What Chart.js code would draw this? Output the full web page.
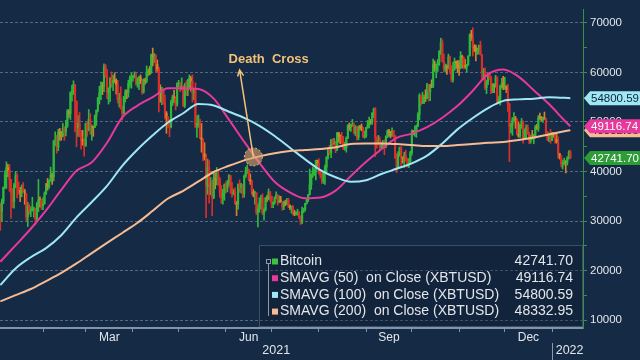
<!DOCTYPE html>
<html>
<head>
<meta charset="utf-8">
<title>Bitcoin - Death Cross</title>
<script src="https://cdn.jsdelivr.net/npm/chart.js@4.4.1/dist/chart.umd.min.js"></script>
<style>
  html, body { margin: 0; padding: 0; background: #152a45; }
  #wrap { width: 640px; height: 360px; }
</style>
</head>
<body>
<div id="wrap"><canvas id="chart" width="640" height="360"></canvas></div>
<script>
// ---- data (XBTUSD daily, Jan 4 2021 .. Jan 13 2022) ----
// day numbers count from Jan 1 2021 = 0
const startDay = 3;          // Jan 4 2021
const firstOpen = 32780;     // open of the first candle

const closes = [
  // Jan 2021 (4..31)
  31970, 33990, 36820, 39370, 40800, 40250, 38360, 35570, 33920, 37320, 39190, 36830, 36180, 35790,
  36630, 36070, 35550, 30830, 33010, 32100, 32290, 32370, 32570, 30430, 33470, 34320, 34270, 33110,
  // Feb
  33540, 35510, 37470, 36930, 38140, 39270, 38900, 46200, 46480, 44920, 47910, 47500, 47110, 48720,
  47950, 49200, 52150, 51680, 55890, 56100, 57540, 54210, 48820, 49710, 47090, 46340, 46190, 45140,
  // Mar
  49630, 48380, 50540, 48560, 48930, 48910, 51210, 52380, 54880, 55850, 57330, 57190, 61240, 59300, 55910, 56800,
  58870, 57860, 58350, 58310, 57520, 54530, 54740, 52780, 51700, 55140, 55970, 55950, 57750, 58920, 58920,
  // Apr
  59100, 59380, 57600, 58760, 59060, 58190, 56050, 58320, 58250, 59790, 60200, 59890, 63500, 63110, 63310,
  61570, 60680, 56220, 55720, 56470, 53910, 51760, 51090, 50050, 49000, 54020, 55030, 54820, 53560, 57750,
  // May
  57830, 56630, 57200, 53330, 57420, 56400, 57360, 58800, 58230, 55860, 56700, 49150, 49720, 49880, 46760, 46460,
  43540, 42910, 36960, 40780, 37300, 37540, 34770, 38710, 38400, 39300, 38440, 35700, 34620, 35680, 37330,
  // Jun
  36690, 37580, 39190, 36850, 35550, 35860, 33560, 33400, 37350, 36700, 37330, 35550, 39100, 40220, 40410,
  38350, 38050, 35790, 35620, 35700, 31680, 32510, 33720, 34660, 31590, 32280, 34700, 34490, 35910, 35050,
  // Jul
  33500, 33790, 34670, 35290, 33750, 34240, 33860, 32880, 33800, 33520, 34240, 33160, 32700, 32820, 31780, 31420,
  31520, 31780, 30820, 29810, 32110, 32310, 33580, 34290, 35350, 37340, 39410, 40000, 40010, 42240, 41630,
  // Aug
  39970, 39200, 38150, 39750, 40870, 42820, 44560, 43800, 46370, 45590, 45590, 44430, 47790, 47100, 47050, 45940,
  44700, 44800, 46720, 49340, 48910, 49320, 49550, 47710, 48960, 46940, 49060, 48900, 48830, 47050, 47170,
  // Sep
  48850, 49330, 50030, 49940, 51750, 52630, 46810, 46090, 46390, 44880, 45200, 46060, 44960, 47090, 48180,
  47780, 47270, 48280, 47260, 42840, 40690, 43570, 44900, 42840, 42720, 43210, 42240, 41030, 41560, 43790,
  // Oct
  48120, 47710, 48200, 49110, 51510, 55360, 53810, 53970, 54970, 54770, 57490, 56040, 57400, 57320, 61590, 60890,
  61550, 62030, 64260, 65990, 62210, 60690, 61290, 60850, 63080, 60330, 58480, 60620, 62230, 61890, 61320,
  // Nov
  61000, 63230, 62970, 61450, 61130, 61530, 63330, 67570, 66970, 65000, 64950, 64160, 64470, 65470, 63560,
  60160, 60370, 56940, 58120, 59760, 58730, 56290, 57570, 57190, 58960, 53730, 54720, 57270, 57780, 56950,
  // Dec
  57180, 56480, 53600, 49150, 49400, 50440, 50590, 50470, 47550, 47140, 49390, 50050, 46700, 48340, 48860, 47630,
  46130, 46830, 46680, 46910, 48890, 48590, 50840, 50820, 50400, 50780, 50700, 47540, 46460, 47120, 46220,
  // Jan 2022 (1..13)
  47740, 47310, 46430, 45900, 43570, 43160, 41560, 41730, 41910, 41820, 42740, 43950, 42741.70
];

const highs = [
  33600, 34440, 36880, 40180, 41950, 41440, 41420, 38350, 36570, 37600, 40000, 39580, 37900, 36800,
  37300, 37800, 36400, 35600, 33800, 33400, 32900, 34800, 32800, 32600, 33800, 38400, 34900, 34400,
  34700, 35900, 37600, 38600, 38300, 40900, 39700, 46200, 48000, 47300, 48500, 48700, 48100, 49700,
  49000, 50300, 52500, 52500, 56100, 57400, 58300, 57500, 54200, 51300, 51900, 48300, 48300, 46600,
  49800, 50100, 52500, 51700, 49400, 49200, 51400, 52400, 54900, 57200, 58100, 58000, 61700, 61600, 60600, 56900,
  58900, 60100, 59400, 59900, 58700, 58400, 55800, 57100, 53200, 55100, 56500, 56500, 58400, 59300, 59800,
  59400, 60100, 59800, 58900, 59200, 59500, 58600, 58700, 58800, 61300, 60700, 61200, 63700, 64900, 63800,
  63600, 62500, 61000, 57500, 57000, 56700, 55400, 52100, 51100, 50500, 54400, 55400, 56400, 55100, 57900,
  58400, 57900, 58900, 57100, 57800, 58300, 58600, 59500, 59200, 59500, 56800, 57900, 51300, 51400, 50600, 49700,
  46600, 45800, 43500, 42500, 42200, 38800, 38200, 39800, 39700, 40800, 40400, 38800, 37200, 36400, 37500,
  37900, 38200, 39400, 39200, 37800, 36400, 36700, 34000, 37500, 38300, 37600, 37400, 39300, 40900, 41300,
  40500, 39500, 38200, 36400, 36000, 35700, 33300, 34700, 35200, 35500, 32700, 34700, 35200, 36500, 36000,
  35000, 33900, 34900, 35900, 35300, 35100, 35000, 33900, 34000, 34200, 34600, 34600, 33300, 33000, 33200, 32200,
  31900, 32400, 31900, 31000, 32800, 32600, 33600, 34500, 35400, 40500, 39500, 40900, 40600, 42300, 42300,
  42600, 40400, 39800, 39900, 41300, 43000, 44700, 45300, 46500, 46600, 46700, 46200, 47900, 47900, 47400, 47900,
  47100, 45900, 47000, 49400, 49800, 49500, 50500, 49800, 49300, 49000, 49200, 49300, 49600, 48900, 48200,
  48900, 50300, 51000, 50500, 51900, 52800, 52900, 47000, 47300, 47000, 45900, 46300, 46400, 47200, 48400,
  48500, 48100, 48800, 48300, 47300, 43600, 44000, 44900, 45000, 42900, 43900, 44300, 42700, 42600, 44100,
  48400, 48300, 49200, 49400, 51900, 55700, 55300, 56000, 55400, 56500, 57800, 57600, 57600, 58500, 62700, 62300,
  61700, 62600, 64400, 66900, 66600, 63700, 61700, 61500, 63700, 63300, 61400, 62000, 62900, 62300, 62400,
  62400, 64200, 63500, 63100, 62600, 61600, 63300, 67800, 68500, 69000, 65600, 65500, 64900, 65500, 66300,
  63500, 60800, 60900, 58400, 59900, 60000, 59200, 57800, 57700, 59400, 59100, 55200, 57400, 58800, 59200,
  59000, 57300, 57600, 53800, 49700, 50900, 51900, 51100, 50700, 50000, 49500, 50700, 50200, 48600, 49400, 49400,
  47900, 47300, 48300, 47500, 49300, 49500, 51300, 51800, 51100, 51000, 52000, 50700, 48100, 47800, 48500,
  47900, 47900, 47600, 47500, 47000, 43700, 43100, 42300, 42700, 42200, 43000, 44200, 44300
];

const lows = [
  28130, 29900, 33510, 36490, 36600, 38980, 35990, 30550, 32700, 32580, 36700, 34660, 35400, 33900,
  34900, 35900, 33400, 30100, 28900, 31400, 30900, 32000, 30800, 29300, 30000, 31900, 32800, 32300,
  32300, 33400, 35400, 36200, 36600, 38000, 37400, 38100, 45200, 43700, 44200, 46300, 46300, 47000,
  46300, 47200, 48900, 50900, 50500, 54200, 55500, 48000, 45000, 47100, 47000, 44500, 45300, 43100,
  45100, 47100, 48200, 47500, 46300, 47100, 48900, 49300, 52000, 53600, 54500, 55500, 56100, 59000, 54700, 53600,
  54100, 57000, 56300, 57900, 55600, 53800, 53000, 52600, 50400, 51600, 54000, 54700, 55000, 57000, 56800,
  58200, 58900, 57400, 57000, 56500, 57700, 55600, 55800, 57600, 57900, 59300, 59500, 59800, 61300, 62000,
  60000, 60200, 52000, 54000, 53500, 53600, 50600, 47700, 48900, 47000, 48800, 53300, 53900, 52400, 53200,
  57100, 56100, 56500, 53100, 52900, 55300, 55300, 56900, 56200, 54000, 54500, 48800, 46900, 48900, 46600, 43900,
  42200, 42300, 30700, 35400, 33600, 35300, 31100, 34500, 36500, 37300, 37200, 34800, 33600, 33400, 34200,
  35700, 35900, 37200, 35600, 34800, 35300, 33400, 31100, 32400, 35800, 35700, 34700, 34800, 38800, 39600,
  38100, 37400, 35300, 34900, 33400, 31300, 28800, 31800, 32400, 31300, 30200, 32000, 33900, 34300, 34000,
  32700, 32700, 33400, 34500, 33200, 33700, 33800, 32200, 32300, 33100, 33300, 32700, 32300, 31600, 31200, 31100,
  31200, 31200, 30500, 29300, 29500, 31700, 32000, 33400, 33900, 35300, 36400, 38800, 39200, 38300, 41100,
  39500, 38700, 37600, 37600, 37400, 39900, 42500, 43400, 42800, 45100, 45400, 43800, 44200, 45900, 45600, 45700,
  44400, 44300, 43900, 46600, 48300, 48100, 49100, 47600, 47200, 46300, 46400, 48400, 48200, 46900, 46700,
  46900, 48700, 48800, 49500, 49500, 50900, 43000, 44700, 45500, 44200, 44800, 44800, 43400, 44800, 46800,
  47100, 46800, 47100, 46900, 42600, 39800, 40600, 43100, 40900, 41700, 40800, 42100, 40900, 40800, 41500,
  43300, 47400, 47100, 46900, 49100, 50400, 53400, 53700, 53700, 54100, 54700, 54200, 54300, 56900, 56900, 60200,
  58900, 60200, 61400, 63600, 62100, 60100, 60200, 59600, 60700, 59800, 58100, 58000, 60400, 60800, 60000,
  59400, 60700, 60900, 60700, 60800, 60100, 61400, 63300, 66400, 63300, 64200, 62300, 63600, 63700, 63500,
  58700, 58500, 56500, 55700, 57500, 58600, 55700, 55900, 55900, 57000, 53600, 53700, 53400, 56800, 56500,
  56600, 55900, 52100, 42000, 47800, 47300, 50000, 48700, 47400, 46900, 46900, 48700, 45700, 46500, 46600, 47500,
  45600, 45700, 46500, 45600, 46700, 48500, 48100, 50500, 50200, 49900, 50500, 47300, 46200, 46000, 45700,
  46200, 46900, 45700, 45700, 42700, 42500, 40900, 40500, 41300, 39700, 41300, 42500, 42600
];

const maDays = [3, 13, 23, 33, 43, 53, 63, 73, 83, 93, 103, 113, 123, 133, 143, 153, 163, 173, 183, 193,
  203, 213, 223, 233, 243, 253, 263, 273, 283, 293, 303, 313, 323, 333, 343, 353, 363, 373, 377];
const sma50 = [21800, 25100, 28450, 32150, 36300, 40150, 41850, 45800, 50900, 53300, 55000, 56780, 56800, 56630,
  54700, 50450, 46000, 41750, 37950, 35800, 34600, 34750, 36150, 39100, 41950, 44500, 46800, 47650, 48950, 50850,
  53250, 56300, 59650, 60600, 59150, 56400, 53600, 50350, 49116.74];
const sma100 = [17100, 20450, 22700, 24550, 27150, 30750, 33850, 37100, 41150, 44440, 47300, 49880, 51750, 53600,
  53300, 52050, 50800, 49200, 47150, 44800, 42450, 40300, 38850, 37930, 38250, 39500, 40550, 41650, 43200, 45650,
  48500, 50800, 52800, 54250, 54550, 54670, 54970, 54860, 54800.59];
const sma200 = [13800, 15050, 16300, 17900, 19550, 21450, 23550, 25600, 27600, 29650, 32070, 34550, 36100, 37990,
  39900, 41150, 42250, 43050, 43700, 44125, 44335, 44545, 44900, 45570, 45660, 45660, 45530, 45350, 45150, 45150,
  45350, 45550, 45800, 45950, 46350, 46850, 47480, 48100, 48332.95];

// axis ticks and labels
const yTickValues = [10000, 15000, 20000, 25000, 30000, 35000, 40000, 45000, 50000, 55000, 60000, 65000, 70000];
const monthStarts = [31, 59, 90, 120, 151, 181, 212, 243, 273, 304, 334, 365];
const monthLabelDays = [74.5, 166, 258, 349.5];
const monthLabels = ['Mar', 'Jun', 'Sep', 'Dec'];
const yearLabelDays = [184, 376.5];
const yearLabels = ['2021', '2022'];
const yearBreakDay = 365;

// annotation
const crossDay = 169;        // Jun 19 2021
const crossValue = 42950;
const noteDay = 160;
const noteValue = 60500;

const seriesNames = ['Bitcoin', 'SMAVG (50)  on Close (XBTUSD)', 'SMAVG (100)  on Close (XBTUSD)', 'SMAVG (200)  on Close (XBTUSD)'];

// ---- styles ----
const FONT = '"Liberation Sans", Arial, sans-serif';
const TEXT = '#e3e6ea';
const UP = '#2fb83a';
const DOWN = '#dc2f2a';
const DOWN_SMALL = '#d0862a';
const C50 = '#e6399b';
const C100 = '#9fe7f4';
const C200 = '#f6bb92';
const BTC = '#3cc43c';
const GRID = 'rgba(150,166,186,0.5)';
const AXIS_GREEN = '#3c8f47';
const AXIS_GREY = '#8193a8';
const NOTE = '#f2c278';
const X_MIN = 2.78;
const X_MAX = 385.3;

const days = closes.map((_, i) => startDay + i);
const opens = closes.map((c, i) => (i === 0 ? firstOpen : closes[i - 1]));
const candleColors = closes.map((c, i) => {
  const chg = (c - opens[i]) / opens[i];
  if (chg >= 0) return UP;
  return chg < -0.015 ? DOWN : DOWN_SMALL;
});

const wickData = days.map((d, i) => ({ x: d, y: [Math.min(lows[i], opens[i], closes[i]), Math.max(highs[i], opens[i], closes[i])] }));
const bodyData = days.map((d, i) => ({ x: d, y: [opens[i], closes[i]] }));
const toPoints = vals => maDays.map((d, i) => ({ x: d, y: vals[i] }));

const last = arr => arr[arr.length - 1];

// legend box in the lower right
const seriesBox = {
  id: 'seriesBox',
  afterDraw(chart) {
    const { ctx, chartArea } = chart;
    const left = chartArea.right - 324;
    const top = chartArea.bottom - 83;
    ctx.save();
    ctx.fillStyle = 'rgba(9,22,40,0.3)';
    ctx.fillRect(left, top, chartArea.right - left, 82);
    ctx.strokeStyle = '#3a4f68';
    ctx.lineWidth = 1;
    ctx.strokeRect(left + 0.5, top + 0.5, chartArea.right - left - 1, 81);

    const colors = [BTC, C50, C100, C200];
    const values = [last(closes), last(sma50), last(sma100), last(sma200)];
    // thin bracket
    ctx.strokeStyle = '#8d99a8';
    ctx.beginPath();
    ctx.moveTo(left + 9.5, top + 18);
    ctx.lineTo(left + 9.5, top + 71);
    ctx.stroke();
    ctx.strokeRect(left + 7.5, top + 14.5, 4, 4);

    ctx.font = '14px ' + FONT;
    ctx.textBaseline = 'middle';
    seriesNames.forEach((name, i) => {
      const y = top + 16.5 + i * 16.7;
      ctx.fillStyle = colors[i];
      ctx.fillRect(left + 13, y - 3, 6, 6);
      ctx.fillStyle = TEXT;
      ctx.textAlign = 'left';
      ctx.fillText(name, left + 21, y);
      ctx.textAlign = 'right';
      ctx.fillText(values[i].toFixed(2), chartArea.right - 10, y);
    });
    ctx.restore();
  }
};

// last value tags on the price axis + year separator
const valueTags = {
  id: 'valueTags',
  afterDraw(chart) {
    const { ctx, chartArea, scales } = chart;
    const yS = scales.y;
    const tags = [
      [last(sma200), C200, '#1a1a1a'],
      [last(sma50), C50, '#ffffff'],
      [last(sma100), C100, '#0e2236'],
      [last(closes), '#2c9c36', '#ffffff']
    ];
    const x0 = chartArea.right + 1;
    ctx.save();
    ctx.font = '11.5px ' + FONT;
    ctx.textBaseline = 'middle';
    ctx.textAlign = 'left';
    tags.forEach(([v, bg, fg]) => {
      const y = yS.getPixelForValue(v);
      ctx.fillStyle = bg;
      ctx.beginPath();
      ctx.moveTo(x0, y);
      ctx.lineTo(x0 + 6, y - 7);
      ctx.lineTo(640, y - 7);
      ctx.lineTo(640, y + 7);
      ctx.lineTo(x0 + 6, y + 7);
      ctx.closePath();
      ctx.fill();
      ctx.fillStyle = fg;
      ctx.fillText(v.toFixed(2), x0 + 7, y + 0.5);
    });

    const xb = Math.round(scales.x.getPixelForValue(yearBreakDay)) + 0.5;
    ctx.strokeStyle = '#8d99a8';
    ctx.lineWidth = 1;
    ctx.beginPath();
    ctx.moveTo(xb, 343);
    ctx.lineTo(xb, 360);
    ctx.stroke();
    ctx.restore();
  }
};

// Death Cross marker
const deathCross = {
  id: 'deathCross',
  afterDatasetsDraw(chart) {
    const { ctx, scales: { x, y } } = chart;
    const cx = x.getPixelForValue(crossDay), cy = y.getPixelForValue(crossValue);
    const tx = x.getPixelForValue(noteDay), ty = y.getPixelForValue(noteValue);
    ctx.save();
    ctx.beginPath();
    ctx.arc(cx, cy, 9, 0, Math.PI * 2);
    ctx.fillStyle = 'rgba(224,168,108,0.6)';
    ctx.fill();
    ctx.setLineDash([2, 2]);
    ctx.strokeStyle = NOTE;
    ctx.lineWidth = 1;
    ctx.stroke();
    ctx.setLineDash([]);

    ctx.strokeStyle = NOTE;
    ctx.lineWidth = 1.5;
    ctx.beginPath();
    ctx.moveTo(cx, cy);
    ctx.lineTo(tx, ty);
    const ang = Math.atan2(ty - cy, tx - cx);
    ctx.moveTo(tx + 7 * Math.cos(ang + Math.PI - 0.45), ty + 7 * Math.sin(ang + Math.PI - 0.45));
    ctx.lineTo(tx, ty);
    ctx.lineTo(tx + 7 * Math.cos(ang + Math.PI + 0.45), ty + 7 * Math.sin(ang + Math.PI + 0.45));
    ctx.stroke();

    ctx.font = 'bold 13px ' + FONT;
    ctx.fillStyle = NOTE;
    ctx.textBaseline = 'middle';
    ctx.textAlign = 'left';
    ctx.fillText('Death  Cross', tx - 11, ty - 10);
    ctx.restore();
  }
};

new Chart(document.getElementById('chart'), {
  type: 'bar',
  data: {
    datasets: [
      { type: 'line', label: seriesNames[3], data: toPoints(sma200), borderColor: C200, borderWidth: 2,
        pointRadius: 0, cubicInterpolationMode: 'monotone' },
      { type: 'line', label: seriesNames[2], data: toPoints(sma100), borderColor: C100, borderWidth: 2,
        pointRadius: 0, cubicInterpolationMode: 'monotone' },
      { type: 'line', label: seriesNames[1], data: toPoints(sma50), borderColor: C50, borderWidth: 2,
        pointRadius: 0, cubicInterpolationMode: 'monotone' },
      { label: 'Bitcoin body', data: bodyData, backgroundColor: candleColors, barThickness: 1.5,
        minBarLength: 1, grouped: false },
      { label: 'Bitcoin range', data: wickData, backgroundColor: candleColors, barThickness: 1, grouped: false }
    ]
  },
  options: {
    responsive: false,
    animation: false,
    devicePixelRatio: 1,
    layout: { padding: 0 },
    plugins: { legend: { display: false }, tooltip: { enabled: false } },
    scales: {
      x: {
        type: 'linear', min: X_MIN, max: X_MAX, offset: false, weight: 0,
        afterBuildTicks: s => { s.ticks = monthStarts.map(v => ({ value: v })); },
        afterFit: s => { s.height = 2; },
        ticks: { display: false },
        grid: { display: true, drawOnChartArea: false, drawTicks: true, tickLength: 4, color: AXIS_GREY, offset: false },
        border: { display: true, color: AXIS_GREY, width: 2 }
      },
      xMonth: {
        type: 'linear', position: 'bottom', min: X_MIN, max: X_MAX, offset: false, weight: 1,
        afterBuildTicks: s => { s.ticks = monthLabelDays.map(v => ({ value: v })); },
        afterFit: s => { s.height = 13; },
        grid: { display: false, drawTicks: false },
        border: { display: false },
        ticks: { autoSkip: false, maxRotation: 0, padding: 0, color: TEXT, font: { family: FONT, size: 12 },
          callback: (v, i) => monthLabels[i] }
      },
      xYear: {
        type: 'linear', position: 'bottom', min: X_MIN, max: X_MAX, offset: false, weight: 2,
        afterBuildTicks: s => { s.ticks = yearLabelDays.map(v => ({ value: v })); },
        afterFit: s => { s.height = 17; },
        grid: { display: false, drawTicks: false },
        border: { display: false },
        ticks: { autoSkip: false, maxRotation: 0, padding: 0, color: TEXT, font: { family: FONT, size: 12.5 },
          callback: (v, i) => yearLabels[i] }
      },
      y: {
        position: 'right', min: 8430, max: 72600, beginAtZero: false,
        afterBuildTicks: s => { s.ticks = yTickValues.map(v => ({ value: v })); },
        afterFit: s => { s.width = 57; },
        grid: {
          color: c => (c.tick && c.tick.value % 10000 === 0 ? GRID : 'rgba(0,0,0,0)'),
          lineWidth: 1, drawTicks: true, tickLength: 4, tickColor: AXIS_GREEN, tickWidth: 1
        },
        border: { display: true, color: AXIS_GREEN, width: 1, dash: [3, 2] },
        ticks: { autoSkip: false, padding: 3, color: TEXT, font: { family: FONT, size: 11.5 },
          callback: v => (v % 10000 === 0 ? String(v) : '') }
      }
    }
  },
  plugins: [deathCross, seriesBox, valueTags]
});
</script>
</body>
</html>
